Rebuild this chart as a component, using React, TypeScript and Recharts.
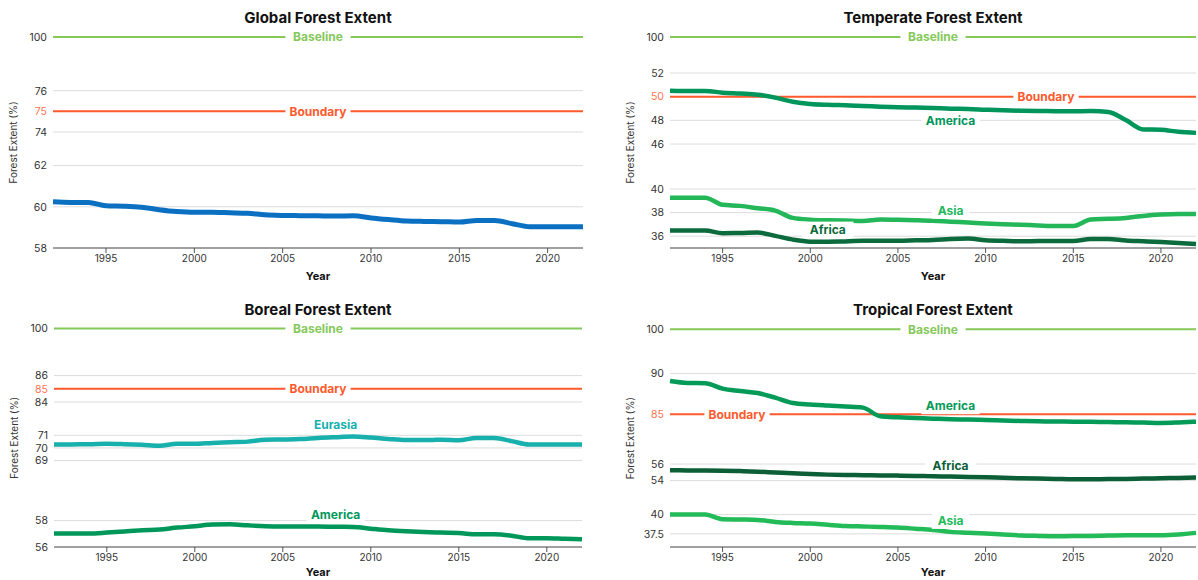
import React from "react";
import { CartesianGrid, Line, LineChart, ReferenceLine, XAxis, YAxis } from "recharts";

const years = [
  1992, 1993, 1994, 1995, 1996, 1997, 1998, 1999, 2000, 2001, 2002, 2003, 2004, 2005, 2006, 2007,
  2008, 2009, 2010, 2011, 2012, 2013, 2014, 2015, 2016, 2017, 2018, 2019, 2020, 2021, 2022,
];
const yearTicks = [1995, 2000, 2005, 2010, 2015, 2020];

const globalExtent = [
  60.24, 60.21, 60.21, 60.05, 60.03, 59.98, 59.86, 59.77, 59.73, 59.73, 59.71, 59.69, 59.61, 59.58, 59.57, 59.56,
  59.55, 59.56, 59.46, 59.38, 59.31, 59.29, 59.28, 59.26, 59.34, 59.34, 59.18, 59.03, 59.03, 59.03, 59.03,
];

const temperateAmerica = [
  50.49, 50.48, 50.48, 50.34, 50.26, 50.16, 49.92, 49.57, 49.38, 49.31, 49.27, 49.22, 49.15, 49.1, 49.08, 49.04,
  48.98, 48.96, 48.9, 48.85, 48.81, 48.79, 48.77, 48.76, 48.78, 48.7, 48.02, 47.23, 47.2, 47.03, 46.94,
];
const temperateAsia = [
  39.26, 39.26, 39.26, 38.66, 38.57, 38.37, 38.17, 37.55, 37.4, 37.35, 37.32, 37.29, 37.42, 37.4, 37.36, 37.31,
  37.23, 37.16, 37.08, 37.02, 36.97, 36.91, 36.86, 36.86, 37.42, 37.47, 37.55, 37.72, 37.83, 37.88, 37.88,
];
const temperateAfrica = [
  36.48, 36.48, 36.48, 36.26, 36.27, 36.31, 36.03, 35.71, 35.54, 35.54, 35.55, 35.62, 35.62, 35.62, 35.65, 35.68,
  35.77, 35.8, 35.66, 35.61, 35.57, 35.59, 35.6, 35.6, 35.77, 35.77, 35.63, 35.57, 35.51, 35.43, 35.34,
];

const borealEurasia = [
  70.27, 70.28, 70.29, 70.33, 70.3, 70.25, 70.18, 70.34, 70.33, 70.4, 70.45, 70.5, 70.65, 70.67, 70.7, 70.79,
  70.85, 70.9, 70.82, 70.71, 70.63, 70.63, 70.64, 70.6, 70.79, 70.79, 70.54, 70.27, 70.27, 70.27, 70.27,
];
const borealAmerica = [
  57.02, 57.02, 57.02, 57.09, 57.18, 57.27, 57.32, 57.47, 57.57, 57.7, 57.72, 57.64, 57.57, 57.55, 57.55, 57.55,
  57.53, 57.52, 57.39, 57.27, 57.19, 57.13, 57.09, 57.06, 56.96, 56.96, 56.86, 56.66, 56.66, 56.62, 56.58,
];

const tropicalAmerica = [
  89.09, 88.85, 88.82, 88.15, 87.86, 87.61, 87.05, 86.39, 86.2, 86.07, 85.95, 85.82, 84.75, 84.63, 84.55, 84.47,
  84.4, 84.35, 84.3, 84.24, 84.18, 84.14, 84.12, 84.1, 84.08, 84.05, 84.02, 83.98, 83.94, 84.0, 84.1,
];
const tropicalAfrica = [
  55.24, 55.23, 55.22, 55.2, 55.15, 55.08, 54.98, 54.88, 54.8, 54.72, 54.68, 54.65, 54.62, 54.6, 54.56, 54.52,
  54.48, 54.44, 54.4, 54.34, 54.28, 54.24, 54.2, 54.16, 54.17, 54.18, 54.2, 54.24, 54.28, 54.32, 54.36,
];
const tropicalAsia = [
  40.04, 40.04, 40.04, 39.4, 39.36, 39.31, 39.05, 38.92, 38.84, 38.68, 38.53, 38.46, 38.4, 38.32, 38.17, 38.01,
  37.76, 37.66, 37.55, 37.42, 37.3, 37.24, 37.2, 37.21, 37.24, 37.28, 37.33, 37.33, 37.33, 37.42, 37.63,
];

const globalTicks = [58, 60, 62, 74, 75, 76, 100];
const temperateTicks = [36, 38, 40, 46, 48, 50, 52, 100];
const borealTicks = [56, 58, 69, 70, 71, 84, 85, 86, 100];
const tropicalTicks = [37.5, 40, 54, 56, 85, 90, 100];

const BASELINE = 100;

// broken y axes: [value, pixels above the plot bottom]
type Anchor = [number, number];
const globalAxis: Anchor[] = [[58, 0], [62, 82.4], [74, 116], [76, 157.3], [100, 211]];
const temperateAxis: Anchor[] = [[35, 0], [40, 59], [46, 104], [52, 175], [100, 211]];
const borealAxis: Anchor[] = [[56, 0], [58, 26.4], [69, 86.4], [71, 111.7], [84, 145], [86, 171.4], [100, 218.4]];
const tropicalAxis: Anchor[] = [[35.8, 0], [40, 32.4], [54, 66.4], [56, 83], [83, 116.4], [90, 173.4], [100, 217.7]];

const BASELINE_COLOR = "#84c95a";
const BOUNDARY_COLOR = "#ff5a2d";
const BOUNDARY_TICK = "#ff7352";
const FONT = "Inter, 'Noto Sans', sans-serif";

function brokenScale(anchors: Anchor[]) {
  return (v: number) => {
    for (let i = 1; i < anchors.length; i++) {
      const [v0, p0] = anchors[i - 1];
      const [v1, p1] = anchors[i];
      if (v <= v1 || i === anchors.length - 1) return p0 + ((v - v0) / (v1 - v0)) * (p1 - p0);
    }
    return 0;
  };
}

function Tag({ cx, cy, text, color }: { cx: number; cy: number; text: string; color: string }) {
  const w = text.length * 6.9 + 10;
  return (
    <g>
      <rect x={cx - w / 2} y={cy - 8} width={w} height={16} fill="#fff" />
      <text x={cx} y={cy} dy={4.2} textAnchor="middle" fontSize={12} fontWeight={700} fill={color}>
        {text}
      </text>
    </g>
  );
}

type Series = { name: string; values: number[]; color: string; width: number; labelYear?: number; labelDy?: number };

type PanelProps = {
  title: string;
  left: number;
  top: number;
  yWidth: number;
  marginRight: number;
  plotBottom: number;
  yearDy: number;
  anchors: Anchor[];
  ticks: number[];
  boundary: number;
  boundaryAt?: number; // px from plot left, centred when missing
  series: Series[];
};

const W = 599;
const H = 290;

function Panel(p: PanelProps) {
  const toY = brokenScale(p.anchors);
  const top = p.anchors[p.anchors.length - 1][1];
  const data = years.map((year, i) => {
    const row: any = { year };
    p.series.forEach((s) => (row[s.name] = toY(s.values[i])));
    return row;
  });
  const tickPos = p.ticks.map(toY);
  const labelOf = (v: number) => {
    let best = 0;
    tickPos.forEach((t, i) => {
      if (Math.abs(t - v) < Math.abs(tickPos[best] - v)) best = i;
    });
    return p.ticks[best];
  };
  const xAxisH = 30;
  const plotW = W - p.yWidth - p.marginRight;

  const refLabel = (text: string, color: string, at?: number) => (lp: any) => {
    const vb = lp.viewBox;
    const cx = vb.x + (at ?? vb.width / 2);
    return <Tag cx={cx} cy={vb.y} text={text} color={color} />;
  };

  return (
    <div style={{ position: "absolute", left: p.left, top: p.top, width: W, height: H }}>
      <LineChart
        width={W}
        height={H}
        data={data}
        margin={{ top: p.plotBottom - top, right: p.marginRight, bottom: H - p.plotBottom - xAxisH, left: 0 }}
      >
        <CartesianGrid vertical={false} stroke="#dcdcdc" />
        <XAxis
          dataKey="year"
          type="number"
          domain={[1992, 2022]}
          ticks={yearTicks}
          height={xAxisH}
          tickSize={5}
          tickMargin={2}
          tick={{ fontSize: 10, fill: "#333" }}
          axisLine={{ stroke: "#555", strokeWidth: 1.2 }}
          tickLine={{ stroke: "#555" }}
          label={(lp: any) => (
            <text
              x={lp.viewBox.x + lp.viewBox.width / 2}
              y={lp.viewBox.y + p.yearDy}
              textAnchor="middle"
              fontSize={11}
              fontWeight={700}
              fill="#111"
            >
              Year
            </text>
          )}
        />
        <YAxis
          type="number"
          domain={[0, top]}
          ticks={tickPos}
          width={p.yWidth}
          axisLine={false}
          tickLine={false}
          tickSize={0}
          tickMargin={6}
          interval={0}
          tick={(tp: any) => {
            const v = labelOf(tp.payload.value);
            return (
              <text
                x={tp.x}
                y={tp.y}
                dy={3.8}
                textAnchor="end"
                fontSize={10.5}
                fill={v === p.boundary ? BOUNDARY_TICK : "#333"}
              >
                {v}
              </text>
            );
          }}
          label={(lp: any) => {
            const vb = lp.viewBox;
            const cx = vb.x + vb.width - 40;
            const cy = vb.y + vb.height / 2;
            return (
              <text
                x={cx}
                y={cy}
                transform={`rotate(-90, ${cx}, ${cy})`}
                textAnchor="middle"
                dominantBaseline="central"
                fontSize={10}
                fill="#333"
              >
                Forest Extent (%)
              </text>
            );
          }}
        />
        <ReferenceLine
          y={toY(BASELINE)}
          stroke={BASELINE_COLOR}
          strokeWidth={2}
          label={refLabel("Baseline", BASELINE_COLOR)}
        />
        <ReferenceLine
          y={toY(p.boundary)}
          stroke={BOUNDARY_COLOR}
          strokeWidth={2}
          label={refLabel("Boundary", BOUNDARY_COLOR, p.boundaryAt)}
        />
        {p.series.map((s) => {
          const idx = s.labelYear == null ? -1 : years.indexOf(s.labelYear);
          return (
            <Line
              key={s.name}
              dataKey={s.name}
              type="monotone"
              stroke={s.color}
              strokeWidth={s.width}
              dot={false}
              activeDot={false}
              isAnimationActive={false}
              label={(lp: any) => {
                if (lp.index !== idx) return <g />;
                const x = lp.x ?? lp.viewBox?.x;
                const y = lp.y ?? lp.viewBox?.y;
                return <Tag cx={x} cy={y + (s.labelDy ?? 0)} text={s.name} color={s.color} />;
              }}
            />
          );
        })}
      </LineChart>
      <div
        style={{
          position: "absolute",
          left: p.yWidth,
          width: plotW,
          top: p.plotBottom - top - 28,
          textAlign: "center",
          fontSize: 15,
          fontWeight: 700,
          lineHeight: "18px",
          color: "#111",
        }}
      >
        {p.title}
      </div>
    </div>
  );
}

export default function App() {
  return (
    <div
      style={{
        position: "absolute",
        left: 0,
        top: 0,
        width: 1198,
        height: 580,
        background: "#fff",
        fontFamily: FONT,
        overflow: "hidden",
      }}
    >
      <Panel
        title="Global Forest Extent"
        left={0}
        top={0}
        yWidth={53}
        marginRight={16}
        plotBottom={248}
        yearDy={32}
        anchors={globalAxis}
        ticks={globalTicks}
        boundary={75}
        series={[{ name: "Global", values: globalExtent, color: "#0b70c2", width: 5 }]}
      />
      <Panel
        title="Temperate Forest Extent"
        left={599}
        top={0}
        yWidth={71}
        marginRight={2}
        plotBottom={248}
        yearDy={32}
        anchors={temperateAxis}
        ticks={temperateTicks}
        boundary={50}
        boundaryAt={376}
        series={[
          { name: "America", values: temperateAmerica, color: "#00955b", width: 4.5, labelYear: 2008, labelDy: 12 },
          { name: "Asia", values: temperateAsia, color: "#23b75a", width: 4.5, labelYear: 2008, labelDy: -11 },
          { name: "Africa", values: temperateAfrica, color: "#0c6b3d", width: 4.5, labelYear: 2001, labelDy: -12 },
        ]}
      />
      <Panel
        title="Boreal Forest Extent"
        left={0}
        top={290}
        yWidth={54}
        marginRight={17}
        plotBottom={257}
        yearDy={29}
        anchors={borealAxis}
        ticks={borealTicks}
        boundary={85}
        series={[
          { name: "Eurasia", values: borealEurasia, color: "#17b0ad", width: 4.5, labelYear: 2008, labelDy: -12 },
          { name: "America", values: borealAmerica, color: "#00975a", width: 4.5, labelYear: 2008, labelDy: -12 },
        ]}
      />
      <Panel
        title="Tropical Forest Extent"
        left={599}
        top={290}
        yWidth={71}
        marginRight={2}
        plotBottom={257}
        yearDy={29}
        anchors={tropicalAxis}
        ticks={tropicalTicks}
        boundary={85}
        boundaryAt={67}
        series={[
          { name: "America", values: tropicalAmerica, color: "#049a57", width: 4.5, labelYear: 2008, labelDy: -13 },
          { name: "Africa", values: tropicalAfrica, color: "#0b5e36", width: 4.5, labelYear: 2008, labelDy: -11 },
          { name: "Asia", values: tropicalAsia, color: "#22bb58", width: 4.5, labelYear: 2008, labelDy: -11 },
        ]}
      />
    </div>
  );
}
